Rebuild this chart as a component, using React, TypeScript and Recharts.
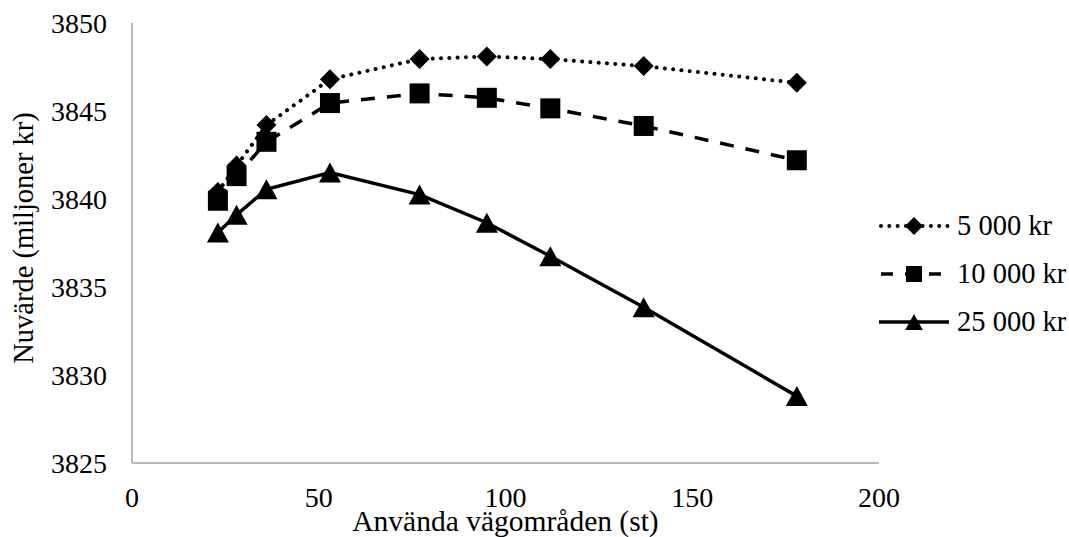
import React from 'react'
import { LineChart, Line, XAxis, YAxis, Legend, Label } from 'recharts'

// antal använda vägområden
const usedAreas = [23, 28, 36, 53, 77, 95, 112, 137, 178]
// nuvärde (miljoner kr) per kostnadsnivå
const npv5000 = [3840.4, 3841.9, 3844.2, 3846.8, 3847.95, 3848.1, 3847.95, 3847.55, 3846.6]
const npv10000 = [3839.9, 3841.3, 3843.25, 3845.45, 3846.0, 3845.75, 3845.15, 3844.15, 3842.2]
const npv25000 = [3838.1, 3839.1, 3840.55, 3841.5, 3840.25, 3838.65, 3836.75, 3833.85, 3828.8]
const xTicks = [0, 50, 100, 150, 200]
const yTicks = [3825, 3830, 3835, 3840, 3845, 3850]

const data = usedAreas.map((x, i) => ({
  x,
  s5000: npv5000[i],
  s10000: npv10000[i],
  s25000: npv25000[i],
}))

const FONT = '"Liberation Serif", "Times New Roman", serif'
const AXIS = '#a0a0a0'

type Shape = 'diamond' | 'square' | 'triangle'

const series: { key: string; name: string; dash?: string; shape: Shape }[] = [
  { key: 's5000', name: '5 000 kr', dash: '0.01 8.3', shape: 'diamond' },
  { key: 's10000', name: '10 000 kr', dash: '14 12', shape: 'square' },
  { key: 's25000', name: '25 000 kr', shape: 'triangle' },
]

function Marker({ shape, cx, cy, r = 10 }: { shape: Shape; cx?: number; cy?: number; r?: number }) {
  if (cx == null || cy == null) return null
  if (shape === 'diamond')
    return <polygon points={`${cx},${cy - r} ${cx + r},${cy} ${cx},${cy + r} ${cx - r},${cy}`} fill="#000" />
  if (shape === 'square') return <rect x={cx - r} y={cy - r} width={2 * r} height={2 * r} fill="#000" />
  return <polygon points={`${cx},${cy - r} ${cx + r * 1.1},${cy + r} ${cx - r * 1.1},${cy + r}`} fill="#000" />
}

function LegendBox() {
  return (
    <div style={{ fontFamily: FONT, fontSize: 28.5, color: '#000' }}>
      {series.map((s) => (
        <div key={s.key} style={{ display: 'flex', alignItems: 'center', height: 48 }}>
          <svg width={70} height={24} style={{ overflow: 'visible' }}>
            <line
              x1={s.dash ? 2 : 0}
              y1={12}
              x2={70}
              y2={12}
              stroke="#000"
              strokeWidth={s.dash ? (s.shape === 'diamond' ? 4 : 3.5) : 3.5}
              strokeDasharray={s.shape === 'square' ? '12 12' : s.dash}
              strokeLinecap={s.shape === 'diamond' ? 'round' : 'butt'}
            />
            <Marker shape={s.shape} cx={35} cy={12} r={s.shape === 'diamond' ? 9 : 8} />
          </svg>
          <span style={{ marginLeft: 8, lineHeight: '48px' }}>{s.name}</span>
        </div>
      ))}
    </div>
  )
}

export default function App() {
  const tick = { fontSize: 28, fill: '#000', fontFamily: FONT }
  return (
    <div style={{ position: 'absolute', left: 0, top: 0, background: '#fff' }}>
      <LineChart width={1069} height={537} data={data} margin={{ top: 23, right: 190, bottom: 0, left: 0 }}>
        <XAxis
          dataKey="x"
          type="number"
          domain={[0, 200]}
          ticks={xTicks}
          tickLine={false}
          tickSize={0}
          tickMargin={24}
          height={74}
          tick={tick}
          axisLine={{ stroke: AXIS, strokeWidth: 1.5 }}
        >
          <Label
            value="Använda vägområden (st)"
            position="insideBottom"
            offset={6}
            style={{ fontSize: 29.5, fill: '#000', fontFamily: FONT }}
          />
        </XAxis>
        <YAxis
          type="number"
          domain={[3825, 3850]}
          ticks={yTicks}
          tickLine={false}
          tickSize={0}
          tickMargin={25}
          width={132}
          tick={tick}
          axisLine={{ stroke: AXIS, strokeWidth: 1.5 }}
        >
          <Label
            content={() => (
              <text
                x={23}
                y={238}
                transform="rotate(-90 23 238)"
                textAnchor="middle"
                dominantBaseline="central"
                style={{ fontSize: 28.5, fill: '#000', fontFamily: FONT }}
              >
                Nuvärde (miljoner kr)
              </text>
            )}
          />
        </YAxis>
        <Legend
          layout="horizontal"
          verticalAlign="middle"
          align="center"
          content={() => <LegendBox />}
          wrapperStyle={{ left: 879, top: 202, width: 190 }}
        />
        {series.map((s) => (
          <Line
            key={s.key}
            dataKey={s.key}
            name={s.name}
            type="linear"
            stroke="#000"
            strokeWidth={s.shape === 'diamond' ? 4 : 3.5}
            strokeDasharray={s.dash}
            strokeLinecap={s.shape === 'diamond' ? 'round' : 'butt'}
            isAnimationActive={false}
            dot={(p: any) => <Marker key={`${s.key}-${p.index}`} shape={s.shape} cx={p.cx} cy={p.cy} />}
            activeDot={false}
          />
        ))}
      </LineChart>
    </div>
  )
}
